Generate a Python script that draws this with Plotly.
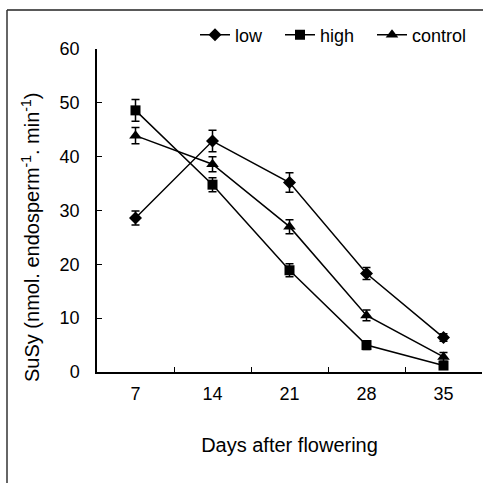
import plotly.graph_objects as go

days = ["7", "14", "21", "28", "35"]
low = [28.6, 42.9, 35.2, 18.3, 6.4]
low_err = [1.3, 2.0, 1.8, 1.1, 0.7]
high = [48.6, 34.8, 18.9, 5.0, 1.2]
high_err = [2.0, 1.3, 1.2, 0.8, 0.5]
control = [43.9, 38.6, 27.0, 10.5, 2.8]
control_err = [1.5, 1.4, 1.3, 1.0, 0.8]

series = [
    ("low", low, low_err, "diamond", 10, "legend"),
    ("high", high, high_err, "square", 10, "legend2"),
    ("control", control, control_err, "triangle-up", 11, "legend3"),
]

fig = go.Figure()
for name, vals, errs, sym, size, lg in series:
    fig.add_trace(go.Scatter(
        x=days, y=vals, name=name, mode="lines+markers", legend=lg,
        line=dict(color="black", width=1.5),
        marker=dict(symbol=sym, size=size, color="black"),
        error_y=dict(type="data", array=errs, visible=True, color="black",
                     thickness=1.5, width=4),
        cliponaxis=False,
    ))

W, H = 483, 483
L, R, T, B = 97, 1, 49, 111
pw, ph = W - L - R, H - T - B

def px(x):
    return (x - L) / pw

def py(y):
    return (H - B - y) / ph

font = "Liberation Sans, Arial, sans-serif"

def leg(xpix):
    return dict(orientation="h", x=px(xpix), y=py(35), xanchor="left",
                yanchor="middle", font=dict(size=18), itemwidth=30,
                bgcolor="rgba(0,0,0,0)")

fig.update_layout(
    width=W, height=H,
    margin=dict(l=L, r=R, t=T, b=B),
    plot_bgcolor="white", paper_bgcolor="white",
    font=dict(family=font, size=18, color="black"),
    showlegend=True,
    legend=leg(195),
    legend2=leg(280),
    legend3=leg(372),
    xaxis=dict(type="category", range=[-0.5, 4.5], tickson="boundaries",
               ticks="inside", ticklen=5, tickcolor="black", showline=True,
               linecolor="black", linewidth=1.5, showgrid=False,
               zeroline=False, ticklabelstandoff=5,
               title=dict(text="Days after flowering", font=dict(size=20),
                          standoff=35)),
    yaxis=dict(range=[0, 60], dtick=10, ticks="inside", ticklen=5,
               tickcolor="black", showline=True, linecolor="black",
               linewidth=1.5, showgrid=False, zeroline=False,
               ticklabelstandoff=12),
    annotations=[
        dict(text="SuSy (nmol. endosperm<sup>-1</sup>. min<sup>-1</sup>)",
             textangle=-90, xref="paper", yref="paper", x=px(30), y=py(238),
             xanchor="center", yanchor="middle", showarrow=False,
             font=dict(size=20)),
    ],
    shapes=[
        dict(type="line", xref="paper", yref="paper", x0=px(7), x1=px(484),
             y0=py(10), y1=py(10), line=dict(color="#222", width=1.5)),
        dict(type="line", xref="paper", yref="paper", x0=px(7), x1=px(7),
             y0=py(10), y1=py(484), line=dict(color="#333", width=1.5)),
    ],
)

fig.write_html("out.html")
